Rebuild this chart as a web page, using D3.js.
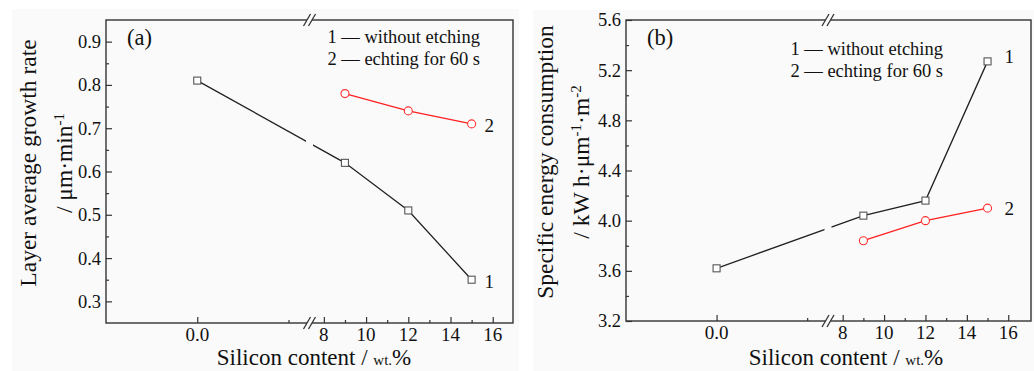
<!DOCTYPE html>
<html>
<head>
<meta charset="utf-8">
<script src="https://cdn.jsdelivr.net/npm/d3@7"></script>
<style>
  html, body { margin: 0; padding: 0; background: #ffffff; }
  svg { display: block; }
  text { font-family: "Liberation Serif", "Times New Roman", serif; fill: #111; }
</style>
</head>
<body>
<svg id="chart" width="1034" height="371"></svg>
<script>
// ---------------- DATA ----------------
const siliconNoEtch = [0, 9, 12, 15];
const siliconEtch = [9, 12, 15];
const growthRateNoEtch = [0.81, 0.62, 0.51, 0.35];
const growthRateEtch = [0.78, 0.74, 0.71];
const energyNoEtch = [3.62, 4.04, 4.16, 5.27];
const energyEtch = [3.84, 4.00, 4.10];
const xTicksLeft = [0.0];
const xTickLabelsLeft = ["0.0"];
const xMinorLeft = [0.1];
const xTicksRight = [8, 10, 12, 14, 16];
const xMinorRight = [9, 11, 13, 15];
const yTicksA = [0.3, 0.4, 0.5, 0.6, 0.7, 0.8, 0.9];
const yMinorA = [0.35, 0.45, 0.55, 0.65, 0.75, 0.85];
const yTicksB = [3.2, 3.6, 4.0, 4.4, 4.8, 5.2, 5.6];
const yMinorB = [3.4, 3.8, 4.2, 4.6, 5.0, 5.4];
const legendLabels = ["1 \u2014 without etching", "2 \u2014 echting for 60 s"];
const seriesTags = ["1", "2"];

const svg = d3.select("#chart");

function drawPanel(p) {
  const g = svg.append("g");
  g.append("rect").attr("x", p.bg[0]).attr("y", p.bg[1]).attr("width", p.bg[2]).attr("height", p.bg[3]).attr("fill", "#fafafa");

  // piecewise (broken) x scale
  const x = d3.scaleLinear()
    .domain([p.xDom[0], p.xDom[1], p.xDom[2], p.xDom[3]])
    .range([p.left, p.brk, p.brk, p.right]);
  const y = d3.scaleLinear().domain(p.yDom).range([p.bottom, p.top]);

  const clipId = "clip" + p.id;
  const cp = g.append("clipPath").attr("id", clipId);
  cp.append("rect").attr("x", p.left).attr("y", p.top).attr("width", p.brk - 3.5 - p.left).attr("height", p.bottom - p.top);
  cp.append("rect").attr("x", p.brk + 3.5).attr("y", p.top).attr("width", p.right - p.brk - 3.5).attr("height", p.bottom - p.top);

  // frame
  g.append("rect").attr("x", p.left).attr("y", p.top).attr("width", p.right - p.left).attr("height", p.bottom - p.top)
    .attr("fill", "none").attr("stroke", "#333").attr("stroke-width", 1.4);

  // y ticks (inward)
  const yAxis = d3.axisRight(y).tickValues(p.yTicks).tickSize(6).tickFormat("");
  const ya = g.append("g").attr("transform", `translate(${p.left},0)`).call(yAxis);
  const yAxisMin = d3.axisRight(y).tickValues(p.yMinor).tickSize(3).tickFormat("");
  const ym = g.append("g").attr("transform", `translate(${p.left},0)`).call(yAxisMin);
  [ya, ym].forEach(a => { a.select(".domain").remove(); a.selectAll("line").attr("stroke", "#333").attr("stroke-width", 1.2); });
  g.selectAll(null).data(p.yTicks).enter().append("text")
    .attr("x", p.left - 5).attr("y", d => y(d)).attr("dy", "0.35em")
    .attr("text-anchor", "end").attr("font-size", 18.5).text(d => d3.format(p.yFmt)(d));

  // x ticks (inward, upward)
  const xa = g.append("g").attr("transform", `translate(0,${p.bottom})`)
    .call(d3.axisTop(x).tickValues(xTicksLeft.concat(xTicksRight)).tickSize(6).tickFormat(""));
  const xm = g.append("g").attr("transform", `translate(0,${p.bottom})`)
    .call(d3.axisTop(x).tickValues(xMinorLeft.concat(xMinorRight)).tickSize(3).tickFormat(""));
  [xa, xm].forEach(a => { a.select(".domain").remove(); a.selectAll("line").attr("stroke", "#333").attr("stroke-width", 1.2); });
  const xLabs = xTickLabelsLeft.map((t, i) => ({v: xTicksLeft[i], t})).concat(xTicksRight.map(v => ({v, t: String(v)})));
  g.selectAll(null).data(xLabs).enter().append("text")
    .attr("x", d => x(d.v)).attr("y", p.xLabY).attr("text-anchor", "middle").attr("font-size", 19).text(d => d.t);

  // break marks
  [p.top, p.bottom].forEach(yy => {
    g.append("rect").attr("x", p.brk - 2.5).attr("y", yy - 1.5).attr("width", 5).attr("height", 3).attr("fill", "#fafafa");
    [-2.5, 2.5].forEach(off => {
      g.append("line").attr("x1", p.brk + off - 3.5).attr("y1", yy + 6).attr("x2", p.brk + off + 3.5).attr("y2", yy - 6)
        .attr("stroke", "#333").attr("stroke-width", 1.3);
    });
  });

  // series
  const line = d3.line().x(d => x(d[0])).y(d => y(d[1]));
  const s1 = siliconNoEtch.map((v, i) => [v, p.s1[i]]);
  const s2 = siliconEtch.map((v, i) => [v, p.s2[i]]);
  g.append("path").datum(s1).attr("d", line).attr("fill", "none").attr("stroke", "#222").attr("stroke-width", 1.3)
    .attr("clip-path", `url(#${clipId})`);
  g.append("path").datum(s2).attr("d", line).attr("fill", "none").attr("stroke", "#ff2020").attr("stroke-width", 1.3);
  g.selectAll(null).data(s1).enter().append("rect")
    .attr("x", d => x(d[0]) - 3.5).attr("y", d => y(d[1]) - 3.5).attr("width", 7).attr("height", 7)
    .attr("fill", "#fff").attr("stroke", "#555").attr("stroke-width", 1.1);
  g.selectAll(null).data(s2).enter().append("circle")
    .attr("cx", d => x(d[0])).attr("cy", d => y(d[1])).attr("r", 4)
    .attr("fill", "#fff").attr("stroke", "#ff3030").attr("stroke-width", 1.1);

  // series tags
  const last1 = s1[s1.length - 1], last2 = s2[s2.length - 1];
  g.append("text").attr("x", x(last1[0]) + p.tagDx).attr("y", y(last1[1]) + p.tag1Dy).attr("font-size", 19).text(seriesTags[0]);
  g.append("text").attr("x", x(last2[0]) + p.tagDx).attr("y", y(last2[1]) + p.tag2Dy).attr("font-size", 19).text(seriesTags[1]);

  // panel letter
  g.append("text").attr("x", p.left + 21).attr("y", 45).attr("font-size", 22.5).text(p.letter);

  // legend
  legendLabels.forEach((t, i) => {
    g.append("text").attr("x", p.legX).attr("y", p.legY + i * 22).attr("text-anchor", "end").attr("font-size", 18.5).text(t);
  });

  // y title
  g.append("text").attr("transform", `translate(${p.yT1x},${p.yTcy}) rotate(-90)`)
    .attr("text-anchor", "middle").attr("font-size", 23.5).text(p.yTitle1);
  const yt2 = g.append("text").attr("transform", `translate(${p.yT2x},${p.yTcy}) rotate(-90)`)
    .attr("text-anchor", "middle").attr("font-size", 23.5);
  p.yTitle2.forEach(part => {
    const ts = yt2.append("tspan").text(part.t);
    if (part.sup) ts.attr("font-size", 15).attr("baseline-shift", "super");
  });

  // x title
  const xt = g.append("text").attr("x", p.xTx).attr("y", p.xTy).attr("text-anchor", "middle").attr("font-size", 23);
  xt.append("tspan").text("Silicon content / ");
  xt.append("tspan").attr("font-size", 15).text("wt.");
  xt.append("tspan").text("%");
}

drawPanel({
  id: "a", letter: "(a)", bg: [12, 9, 507, 362],
  left: 106, right: 513, top: 20, bottom: 323, brk: 309.5,
  xDom: [-0.1, 0.123, 7.32, 16.96], yDom: [0.25, 0.95],
  yTicks: yTicksA, yMinor: yMinorA, yFmt: ".1f",
  s1: growthRateNoEtch, s2: growthRateEtch,
  xLabY: 341, tagDx: 13, tag1Dy: 8, tag2Dy: 8,
  legX: 480, legY: 43,
  yTitle1: "Layer average growth rate",
  yTitle2: [{t: "/ \u03bcm\u00b7min"}, {t: "-1", sup: true}],
  yT1x: 36, yT2x: 72, yTcy: 163,
  xTx: 314, xTy: 365
});

drawPanel({
  id: "b", letter: "(b)", bg: [533, 10, 501, 361],
  left: 626, right: 1031, top: 20, bottom: 321, brk: 828,
  xDom: [-0.1, 0.123, 7.29, 17.1], yDom: [3.2, 5.6],
  yTicks: yTicksB, yMinor: yMinorB, yFmt: ".1f",
  s1: energyNoEtch, s2: energyEtch,
  xLabY: 339, tagDx: 17, tag1Dy: 2, tag2Dy: 7,
  legX: 943, legY: 55,
  yTitle1: "Specific energy consumption",
  yTitle2: [{t: "/ kW h\u00b7\u03bcm"}, {t: "-1", sup: true}, {t: "\u00b7m"}, {t: "-2", sup: true}],
  yT1x: 553, yT2x: 589, yTcy: 162,
  xTx: 846, xTy: 365
});
</script>
</body>
</html>
